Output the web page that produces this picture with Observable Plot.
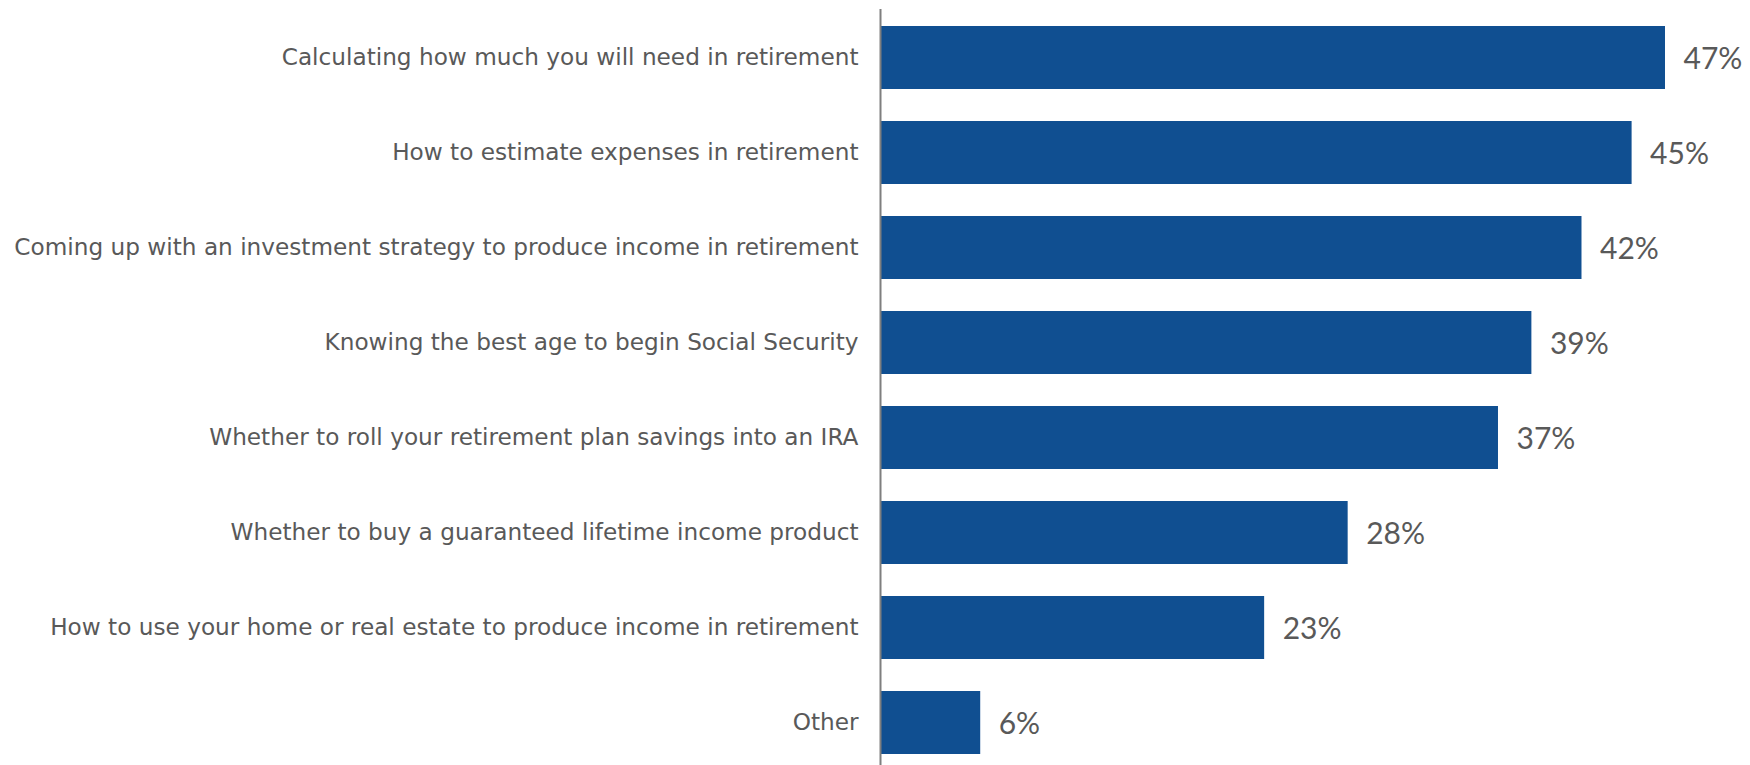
<!DOCTYPE html>
<html>
<head>
<meta charset="utf-8">
<script src="https://cdn.jsdelivr.net/npm/d3@7"></script>
<script src="https://cdn.jsdelivr.net/npm/@observablehq/plot@0.6"></script>
<style>
  html, body { margin: 0; padding: 0; background: #fff; }
  #chart svg { display: block; }
</style>
</head>
<body>
<div id="chart"></div>
<script>
const categories = [
  "Calculating how much you will need in retirement",
  "How to estimate expenses in retirement",
  "Coming up with an investment strategy to produce income in retirement",
  "Knowing the best age to begin Social Security",
  "Whether to roll your retirement plan savings into an IRA",
  "Whether to buy a guaranteed lifetime income product",
  "How to use your home or real estate to produce income in retirement",
  "Other"
];
const values = [47, 45, 42, 39, 37, 28, 23, 6];
const valueLabels = ["47%", "45%", "42%", "39%", "37%", "28%", "23%", "6%"];

const data = categories.map((c, i) => ({ category: c, value: values[i], label: valueLabels[i] }));

const chart = Plot.plot({
  width: 1750,
  height: 765,
  marginLeft: 880,
  marginRight: 85,
  marginTop: 9,
  marginBottom: 0,
  style: { fontFamily: "Lato, sans-serif", background: "#fff" },
  x: { domain: [0, 47], axis: null },
  y: { domain: categories, range: [9, 770], paddingInner: 0.338, paddingOuter: 0.169, label: null },
  marks: [
    Plot.barX(data, { x: "value", y: "category", fill: "#104F91" }),
    Plot.ruleX([0], { stroke: "#7f7f7f", strokeWidth: 2 }),
    Plot.axisY({ tickSize: 0, tickPadding: 22, fontSize: 23.2, fontFamily: "'DejaVu Sans', sans-serif", fill: "#595959", label: null }),
    Plot.text(data, { x: "value", y: "category", text: "label", dx: 18, dy: 1, textAnchor: "start", fontSize: 30, fill: "#595959" })
  ]
});
document.getElementById("chart").appendChild(chart);
</script>
</body>
</html>
